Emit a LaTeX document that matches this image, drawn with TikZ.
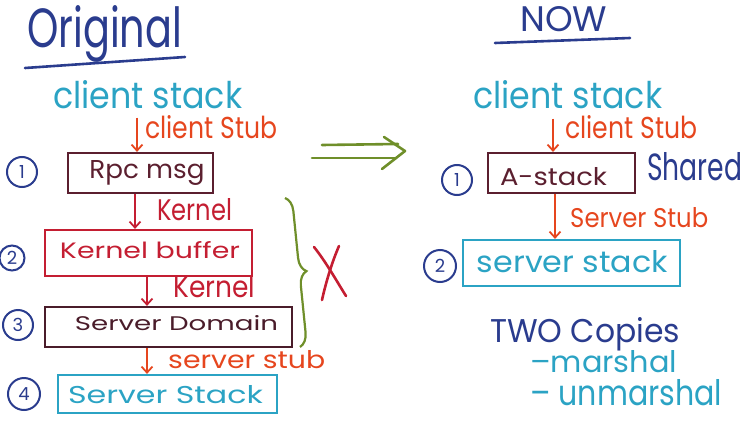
\documentclass[tikz,border=0pt]{standalone}
\usepackage{fontspec}
\setmainfont{Poppins}
\usetikzlibrary{arrows.meta,calc,decorations.pathreplacing}
\definecolor{navy}{HTML}{2A3C8E}
\definecolor{teal}{HTML}{2BA3C4}
\definecolor{orng}{HTML}{E6461E}
\definecolor{kred}{HTML}{C41E32}
\definecolor{maroon}{HTML}{5B1F2F}
\definecolor{dmaroon}{HTML}{4A1C2A}
\definecolor{olive}{HTML}{6F8F2A}
\newcommand\fitt[3]{\resizebox{#1pt}{#2pt}{#3}}
\begin{document}
\begin{tikzpicture}[x=1pt,y=-1pt,
  txt/.style={inner sep=0pt, anchor=base west},
  box/.style={draw, line width=2.2pt, inner sep=0pt},
  num/.style={circle, draw=navy, line width=2pt, text=navy, inner sep=0pt, font=\fontsize{18}{18}\selectfont},
  arr/.style={line width=1.8pt, -{Straight Barb[length=6pt,width=11pt]}},
  pen/.style={line width=2.6pt, line cap=round, line join=round}]
\useasboundingbox (0,0) rectangle (751,420);
% ---------- left: Original ----------
\node[txt, navy] (orig) at (27,48) {\fitt{155}{42}{Original}};
\draw[navy, pen] (25,68) -- (185,57);
\node[txt, teal] (cs1) at (53,108) {\fitt{189}{28}{client stack}};
\node[txt, orng] (cst1) at (145,138) {\fitt{132}{23}{client Stub}};
\node[num, minimum size=30pt] (n1) at (22,172) {1};
\node[box, color=maroon, minimum width=145pt, minimum height=40pt, text height=18pt, text depth=8pt] (rpc) at (140.5,173) {\kern13pt\fitt{115}{18}{Rpc msg}};
\node[txt, kred] (k1) at (157,220) {\fitt{75}{22}{Kernel}};
\node[num, minimum size=25pt] (n2) at (12,258) {2};
\node[box, color=kred, minimum width=207pt, minimum height=46pt, text height=17pt, text depth=7pt] (kb) at (148.5,253) {\kern3pt\fitt{180}{17}{Kernel buffer}};
\node[txt, kred] (k2) at (173,297) {\fitt{82}{22}{Kernel}};
\node[num, minimum size=30pt] (n3) at (18,325) {3};
\node[box, color=dmaroon, minimum width=247pt, minimum height=40pt, text height=15pt, text depth=9pt] (sd) at (168.5,327) {\kern16pt\fitt{203}{15}{Server Domain}};
\node[txt, orng] (sst1) at (168,368) {\fitt{157}{18}{server stub}};
\node[num, minimum size=32pt] (n4) at (24,394) {4};
\node[box, color=teal, minimum width=219pt, minimum height=38pt, text height=18pt, text depth=0pt] (ss) at (167.5,394) {\fitt{195}{18}{Server Stack}\kern4pt};
% arrows left
\draw[arr, orng, shorten <=9pt] ([xshift=-3.5pt]rpc.north |- cs1.south) -- ([xshift=-3.5pt]rpc.north);
\draw[arr, kred] ([xshift=-5.5pt]rpc.south) -- ([xshift=-5.5pt]rpc.south |- kb.north);
\draw[arr, kred] ([xshift=-1.5pt]kb.south) -- ([xshift=-1.5pt]kb.south |- sd.north);
\draw[arr, orng] ([xshift=-21.5pt]sd.south) -- ([xshift=-21.5pt]sd.south |- ss.north);
% brace and X
\draw[olive, line width=2.2pt, decorate, decoration={brace, amplitude=14pt}] (285,198) -- (300,347);
\draw[kred, pen] (314,247) .. controls (326,262) and (336,280) .. (346,296);
\draw[kred, pen] (339,246) .. controls (332,262) and (326,282) .. (322,300);
% big arrow
\coordinate (arrL1) at (322,145);
\coordinate (arrR1) at (398,144);
\coordinate (arrL2) at (312,158);
\coordinate (arrR2) at (396,158);
\draw[olive, pen] (arrL1) -- (arrR1);
\draw[olive, pen] (arrL2) -- (arrR2);
\draw[olive, pen] (384,137) -- (405,151) -- (382,169);
% ---------- right: NOW ----------
\node[txt, navy] (now) at (520,32) {\fitt{87}{25}{NOW}};
\draw[navy, pen] (495,43) -- (630,38);
\node[txt, teal] (cs2) at (473,108) {\fitt{189}{28}{client stack}};
\node[txt, orng] (cst2) at (565,138) {\fitt{132}{23}{client Stub}};
\node[num, minimum size=30pt] (r1) at (457,180) {1};
\node[box, color=maroon, minimum width=147pt, minimum height=40pt, text height=24pt, text depth=0pt] (as) at (561.5,173) {\fitt{107}{18}{A-stack}\kern16pt};
\node[txt, navy] (sh) at (647,180) {\fitt{95}{28}{Shared}};
\node[txt, orng] (sst2) at (570,227) {\fitt{138}{20}{Server Stub}};
\node[num, minimum size=32pt] (r2) at (440,266) {2};
\node[box, color=teal, minimum width=217pt, minimum height=46pt, text height=22pt, text depth=4pt] (ss2) at (571.5,263) {\kern2pt\fitt{191}{22}{server stack}};
\draw[arr, orng, shorten <=10pt] ([xshift=-8.5pt]as.north |- cs2.south) -- ([xshift=-8.5pt]as.north);
\draw[arr, orng] ([xshift=-6.5pt]as.south) -- ([xshift=-6.5pt]as.south |- ss2.north);
\node[txt, navy] (two) at (490,342) {\fitt{190}{25}{TWO Copies}};
\node[txt, teal] (m1) at (530,372) {\fitt{147}{22}{–marshal}};
\node[txt, teal] (m2) at (530,405) {\fitt{192}{26}{– unmarshal}};
\end{tikzpicture}
\end{document}
